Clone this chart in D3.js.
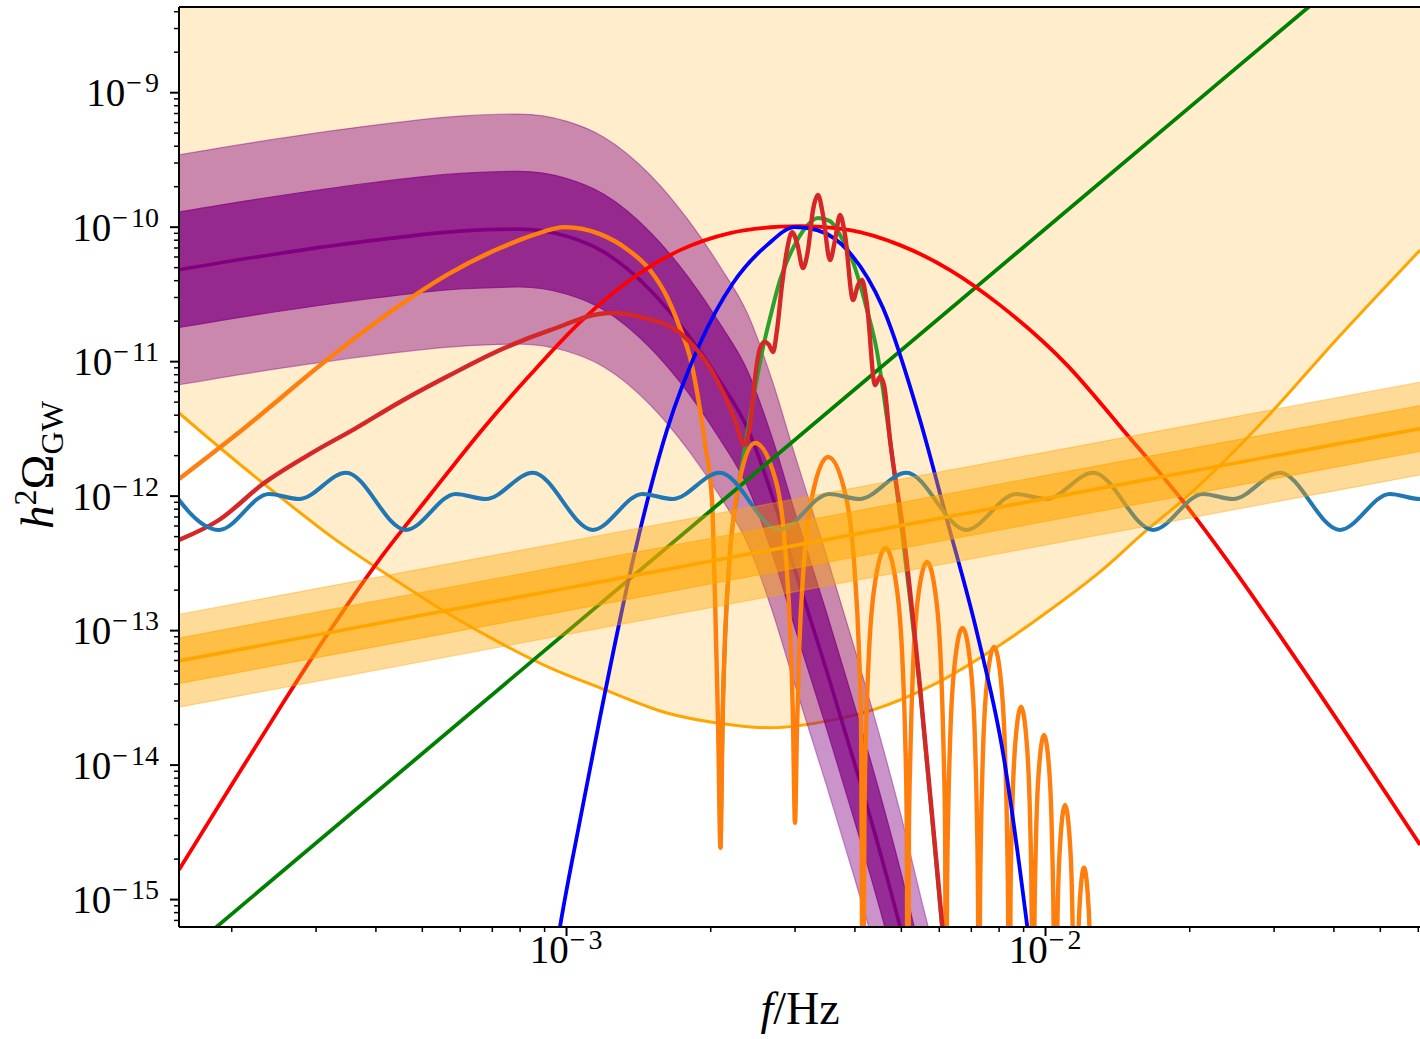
<!DOCTYPE html>
<html lang="en">
  <head>
    <meta charset="utf-8" />
    <title>h2 Omega_GW spectra</title>
    <style>
      body {
        margin: 0;
        background: #fff;
      }
      svg {
        display: block;
      }
      text {
        font-family: 'Liberation Serif', 'Times New Roman', serif;
        fill: #000;
      }
    </style>
  </head>

  <body>
    <div class="container"></div>
    <script src="https://cdn.jsdelivr.net/npm/d3@7"></script>
    <script>
      // axis limits (Hz, h^2 Omega_GW)
      const xLimits = [1.556e-4, 6.1e-2];
      const yLimits = [6.2e-16, 4.3e-9];

      // sensitivity curve, region above it is shaded
      const lisaSensitivity = [
        [1.556e-4, 4.12e-12], [1.886e-4, 2.3e-12], [2.516e-4, 9.94e-13], [3.263e-4, 4.85e-13],
        [4.502e-4, 2.24e-13], [5.726e-4, 1.3e-13], [7.281e-4, 8.03e-14], [9.261e-4, 5.24e-14],
        [1.178e-3, 3.72e-14], [1.625e-3, 2.42e-14], [2.066e-3, 2.04e-14], [2.666e-3, 1.88e-14],
        [3.609e-3, 2.15e-14], [4.375e-3, 2.55e-14], [5.836e-3, 3.91e-14], [8.054e-3, 7.76e-14],
        [1.024e-2, 1.41e-13], [1.302e-2, 2.71e-13], [1.633e-2, 5.56e-13], [1.942e-2, 9.28e-13],
        [2.908e-2, 3.84e-12], [3.994e-2, 1.36e-11], [6.067e-2, 6.69e-11],
      ];

      // purple broken power law with two bands
      const purpleFreq = [1.5e-4, 2.5e-4, 4e-4, 6e-4, 8e-4, 1e-3, 1.2e-3, 1.5e-3, 1.8e-3, 2.1e-3,
        2.4e-3, 2.7e-3, 3e-3, 3.5e-3, 4e-3, 4.5e-3, 5e-3, 5.6e-3, 6.3e-3];
      const purpleMid = [4.68e-11, 6.3e-11, 7.94e-11, 9.27e-11, 9.59e-11, 8.51e-11, 6.47e-11, 3.37e-11,
        1.56e-11, 7.0e-12, 3.08e-12, 9.77e-13, 2.85e-13, 4.98e-14, 1.03e-14, 2.4e-15, 5.92e-16, 1.12e-16, 2.29e-17];
      const purpleHi1 = [1.26e-10, 1.69e-10, 2.14e-10, 2.49e-10, 2.58e-10, 2.29e-10, 1.74e-10, 9.08e-11,
        4.21e-11, 1.88e-11, 8.28e-12, 2.63e-12, 7.67e-13, 1.34e-13, 2.77e-14, 6.47e-15, 1.59e-15, 3.03e-16, 6.17e-17];
      const purpleLo1 = [1.74e-11, 2.34e-11, 2.95e-11, 3.44e-11, 3.56e-11, 3.16e-11, 2.4e-11, 1.25e-11,
        5.81e-12, 2.6e-12, 1.14e-12, 3.63e-13, 1.06e-13, 1.85e-14, 3.83e-15, 8.93e-16, 2.2e-16, 4.18e-17, 8.51e-18];
      const purpleHi2 = [3.35e-10, 4.51e-10, 5.69e-10, 6.64e-10, 6.87e-10, 6.1e-10, 4.63e-10, 2.42e-10,
        1.12e-10, 5.01e-11, 2.2e-11, 7.0e-12, 2.04e-12, 3.56e-13, 7.38e-14, 1.72e-14, 4.24e-15, 8.05e-16, 1.64e-16];
      const purpleLo2 = [6.53e-12, 8.79e-12, 1.11e-11, 1.29e-11, 1.34e-11, 1.19e-11, 9.04e-12, 4.71e-12,
        2.18e-12, 9.77e-13, 4.3e-13, 1.36e-13, 3.98e-14, 6.95e-15, 1.44e-15, 3.36e-16, 8.26e-17, 1.57e-17, 3.2e-18];

      // orange power law (f^(2/3)) with two bands
      const ptaFreq = [1e-4, 1e-3, 1e-2, 1e-1];
      const ptaMid = [4.4e-14, 2.05e-13, 9.5e-13, 4.4e-12];
      const ptaLo1 = [2.98e-14, 1.39e-13, 6.42e-13, 2.98e-12];
      const ptaHi1 = [6.5e-14, 3.03e-13, 1.41e-12, 6.5e-12];
      const ptaLo2 = [1.99e-14, 9.26e-14, 4.29e-13, 1.99e-12];
      const ptaHi2 = [9.74e-14, 4.54e-13, 2.1e-12, 9.74e-12];

      // straight f^3 line
      const greenLine = [[1e-4, 9.6e-17], [1e-1, 9.6e-8]];

      const redBump = [
        [1.556e-4, 1.65e-15], [2.017e-4, 7.32e-15], [2.59e-4, 3.03e-14], [3.17e-4, 9.21e-14],
        [4.07e-4, 3.32e-13], [5.201e-4, 1.01e-12], [6.677e-4, 3.08e-12], [8.411e-4, 7.88e-12],
        [1.07e-3, 1.95e-11], [1.36e-3, 4.01e-11], [1.73e-3, 6.69e-11], [2.199e-3, 8.96e-11],
        [2.797e-3, 1.0e-10], [3.08e-3, 1.01e-10], [3.917e-3, 9.43e-11], [4.981e-3, 7.29e-11],
        [6.334e-3, 4.76e-11], [8.054e-3, 2.61e-11], [1.112e-2, 9.35e-12], [1.455e-2, 3.08e-12],
        [1.932e-2, 9.28e-13], [2.399e-2, 3.32e-13], [3.407e-2, 5.51e-14], [6.067e-2, 2.53e-15],
      ];

      const blueBump = [
        [9.261e-4, 2.12e-16], [9.716e-4, 6.23e-16], [1.07e-3, 3.89e-15], [1.178e-3, 2.26e-14],
        [1.38e-3, 3.32e-13], [1.625e-3, 3.08e-12], [1.905e-3, 1.36e-11], [2.232e-3, 3.81e-11],
        [2.628e-3, 7.29e-11], [3.006e-3, 9.92e-11], [3.342e-3, 9.43e-11], [3.917e-3, 6.36e-11],
        [4.59e-3, 2.48e-11], [5.483e-3, 3.65e-12], [6.243e-3, 6.59e-13], [7.211e-3, 9.53e-14],
        [8.171e-3, 1.22e-14], [9.171e-3, 6.44e-16], [9.53e-3, 2.12e-16],
      ];

      const greenPeak = [
        [2.101e-3, 2.41e-15], [2.124e-3, 2.42e-14], [2.15e-3, 9.53e-14], [2.198e-3, 3.62e-13],
        [2.297e-3, 1.24e-12], [2.364e-3, 2.3e-12], [2.445e-3, 4.72e-12], [2.504e-3, 7.49e-12],
        [2.566e-3, 1.17e-11], [2.666e-3, 2.09e-11], [2.797e-3, 4.01e-11], [2.978e-3, 6.93e-11],
        [3.155e-3, 9.75e-11], [3.358e-3, 1.16e-10], [3.557e-3, 1.1e-10], [3.733e-3, 8.66e-11],
        [3.974e-3, 5.45e-11], [4.25e-3, 2.4e-11], [4.46e-3, 1.17e-11], [4.59e-3, 6.1e-12],
        [4.747e-3, 2.59e-12], [4.933e-3, 9.28e-13], [5.483e-3, 3.59e-14], [6.095e-3, 6.23e-16],
        [6.334e-3, 1.5e-16],
      ];

      const redWiggle = [
        [1.556e-4, 4.68e-13], [1.886e-4, 6.59e-13], [2.342e-4, 1.24e-12], [2.949e-4, 2.08e-12],
        [3.644e-4, 3.18e-12], [4.502e-4, 4.97e-12], [5.726e-4, 7.88e-12], [7.281e-4, 1.21e-11],
        [9.261e-4, 1.7e-11], [1.236e-3, 2.28e-11], [1.462e-3, 2.09e-11], [1.73e-3, 1.62e-11],
        [2.027e-3, 8.16e-12], [2.253e-3, 3.65e-12], [2.353e-3, 2.38e-12], [2.422e-3, 3.35e-12],
        [2.493e-3, 8.59e-12], [2.541e-3, 1.25e-11], [2.603e-3, 1.39e-11], [2.653e-3, 1.32e-11],
        [2.705e-3, 1.17e-11], [2.757e-3, 1.7e-11], [2.824e-3, 3.68e-11], [2.893e-3, 6.69e-11],
        [2.963e-3, 9.11e-11], [3.036e-3, 7.55e-11], [3.124e-3, 4.92e-11], [3.2e-3, 6.69e-11],
        [3.278e-3, 1.33e-10], [3.358e-3, 1.72e-10], [3.44e-3, 1.22e-10], [3.557e-3, 5.64e-11],
        [3.644e-3, 7.94e-11], [3.733e-3, 1.22e-10], [3.824e-3, 8.66e-11], [3.974e-3, 2.85e-11],
        [4.07e-3, 3.68e-11], [4.15e-3, 4.01e-11], [4.25e-3, 2.61e-11], [4.417e-3, 6.64e-12],
        [4.524e-3, 7.62e-12], [4.612e-3, 6.64e-12], [4.747e-3, 2.59e-12], [5.053e-3, 5.56e-13],
        [5.483e-3, 3.78e-14], [6.095e-3, 6.67e-16], [6.334e-3, 1.5e-16],
      ];

      const orangeLobes = [
        [1.556e-4, 1.33e-12], [2.107e-4, 3.08e-12], [3.263e-4, 1.11e-11], [4.502e-4, 2.61e-11],
        [5.726e-4, 4.52e-11], [7.281e-4, 6.93e-11], [8.533e-4, 8.66e-11], [9.952e-4, 9.92e-11],
        [1.178e-3, 8.8e-11], [1.341e-3, 6.8e-11], [1.497e-3, 4.76e-11], [1.625e-3, 3.0e-11],
        [1.73e-3, 1.76e-11], [1.815e-3, 1.07e-11], [1.905e-3, 4.33e-12], [1.96e-3, 2.18e-12],
        [2.017e-3, 9.28e-13], [2.047e-3, 1.68e-13], [2.076e-3, 2.15e-14], [2.101e-3, 2.41e-15],
        [2.124e-3, 2.42e-14], [2.15e-3, 9.53e-14], [2.198e-3, 3.62e-13], [2.297e-3, 1.24e-12],
        [2.481e-3, 2.46e-12], [2.75e-3, 1.24e-12], [2.875e-3, 3.62e-13], [2.939e-3, 9.53e-14],
        [2.975e-3, 2.42e-14], [3.006e-3, 3.69e-15], [3.036e-3, 1.91e-14], [3.069e-3, 7.5e-14],
        [3.132e-3, 2.85e-13], [3.263e-3, 9.77e-13], [3.524e-3, 1.94e-12], [3.842e-3, 9.77e-13],
        [4.002e-3, 2.85e-13], [4.085e-3, 7.5e-14], [4.13e-3, 1.91e-14], [4.169e-3, 1.37e-17],
        [4.197e-3, 4.02e-15], [4.226e-3, 1.58e-14], [4.283e-3, 6.0e-14], [4.401e-3, 2.06e-13],
        [4.645e-3, 4.08e-13], [4.903e-3, 2.06e-13], [5.038e-3, 6.0e-14], [5.106e-3, 1.58e-14],
        [5.142e-3, 4.02e-15], [5.176e-3, 1.37e-17],
        [5.199e-3, 3.16e-15], [5.236e-3, 1.24e-14], [5.295e-3, 4.73e-14], [5.417e-3, 1.62e-13],
        [5.671e-3, 3.21e-13], [5.936e-3, 1.62e-13], [6.073e-3, 4.73e-14], [6.142e-3, 1.24e-14],
        [6.186e-3, 3.16e-15], [6.213e-3, 1.37e-17],
        [6.243e-3, 1.02e-15], [6.276e-3, 4.02e-15], [6.337e-3, 1.53e-14], [6.464e-3, 5.24e-14],
        [6.726e-3, 1.04e-13], [6.998e-3, 5.24e-14], [7.14e-3, 1.53e-14], [7.208e-3, 4.02e-15],
        [7.246e-3, 1.02e-15], [7.281e-3, 1.37e-17],
        [7.313e-3, 7.39e-16], [7.348e-3, 2.9e-15], [7.413e-3, 1.1e-14], [7.549e-3, 3.78e-14],
        [7.826e-3, 7.5e-14], [8.113e-3, 3.78e-14], [8.26e-3, 1.1e-14], [8.335e-3, 2.9e-15],
        [8.375e-3, 7.39e-16], [8.411e-3, 1.37e-17],
        [8.472e-3, 1.04e-15], [8.533e-3, 3.95e-15], [8.658e-3, 1.36e-14], [8.911e-3, 2.69e-14],
        [9.171e-3, 1.36e-14], [9.306e-3, 3.95e-15], [9.372e-3, 1.04e-15], [9.439e-3, 1.37e-17],
        [9.504e-3, 6.44e-16], [9.566e-3, 2.45e-15], [9.692e-3, 8.39e-15], [9.952e-3, 1.66e-14],
        [1.022e-2, 8.39e-15], [1.035e-2, 2.45e-15], [1.042e-2, 6.44e-16], [1.049e-2, 1.37e-17],
        [1.062e-2, 7.39e-16], [1.075e-2, 2.53e-15], [1.101e-2, 5.02e-15], [1.128e-2, 2.53e-15],
        [1.141e-2, 7.39e-16], [1.155e-2, 1.37e-17],
        [1.168e-2, 2.51e-16], [1.18e-2, 8.62e-16], [1.206e-2, 1.71e-15], [1.233e-2, 8.62e-16],
        [1.246e-2, 2.51e-16], [1.26e-2, 1.37e-17],
      ];

      // wavy spectrum around 1e-12 (extrema only)
      const blueWave = [
        [1.415e-4, 1.48e-12], [1.886e-4, 5.56e-13], [2.399e-4, 1.03e-12], [2.771e-4, 9.44e-13], [3.473e-4, 1.48e-12],
        [4.631e-4, 5.56e-13], [5.887e-4, 1.03e-12], [6.801e-4, 9.44e-13], [8.524e-4, 1.48e-12],
        [1.137e-3, 5.56e-13], [1.445e-3, 1.03e-12], [1.669e-3, 9.44e-13], [2.093e-3, 1.48e-12],
        [2.789e-3, 5.56e-13], [3.548e-3, 1.03e-12], [4.098e-3, 9.44e-13], [5.135e-3, 1.48e-12],
        [6.846e-3, 5.56e-13], [8.709e-3, 1.03e-12], [1.006e-2, 9.44e-13], [1.261e-2, 1.48e-12],
        [1.681e-2, 5.56e-13], [2.138e-2, 1.03e-12], [2.469e-2, 9.44e-13], [3.094e-2, 1.48e-12],
        [4.125e-2, 5.56e-13], [5.248e-2, 1.03e-12], [6.061e-2, 9.44e-13], [7.597e-2, 1.48e-12],
      ];

      // Layout
      const width = 1420;
      const height = 1039;
      const pLeft = 179;
      const pRight = 1421.2;
      const pTop = 7;
      const pBottom = 927;

      const svg = d3
        .select('div.container')
        .append('svg')
        .attr('width', width)
        .attr('height', height);

      const x = d3.scaleLog().domain(xLimits).range([pLeft, pRight]);
      const y = d3.scaleLog().domain(yLimits).range([pBottom, pTop]);

      svg
        .append('defs')
        .append('clipPath')
        .attr('id', 'plot-clip')
        .append('rect')
        .attr('x', pLeft)
        .attr('y', pTop)
        .attr('width', pRight - pLeft)
        .attr('height', pBottom - pTop);

      const plot = svg.append('g').attr('clip-path', 'url(#plot-clip)');

      const line = d3
        .line()
        .x((d) => x(d[0]))
        .y((d) => y(d[1]));

      const band = d3
        .area()
        .x((d) => x(d[0]))
        .y0((d) => y(d[1]))
        .y1((d) => y(d[2]));

      function drawLine(data, color, w, curve) {
        line.curve(curve || d3.curveMonotoneX);
        plot
          .append('path')
          .attr('fill', 'none')
          .attr('stroke', color)
          .attr('stroke-width', w)
          .attr('stroke-linejoin', 'round')
          .attr('d', line(data));
      }

      function drawBand(freq, lo, hi, color, opacity, curve) {
        band.curve(curve || d3.curveMonotoneX);
        plot
          .append('path')
          .attr('fill', color)
          .attr('fill-opacity', opacity)
          .attr('stroke', color)
          .attr('stroke-opacity', opacity)
          .attr('stroke-width', 1.2)
          .attr('d', band(d3.zip(freq, lo, hi)));
      }

      // shaded region above the sensitivity curve
      const shade = d3
        .area()
        .x((d) => x(d[0]))
        .y0(pTop)
        .y1((d) => y(d[1]))
        .curve(d3.curveMonotoneX);
      plot
        .append('path')
        .attr('fill', '#ffa500')
        .attr('fill-opacity', 0.2)
        .attr('d', shade(lisaSensitivity));
      drawLine(lisaSensitivity, '#ffa500', 3);

      // purple bands
      drawBand(purpleFreq, purpleLo2, purpleHi2, '#800080', 0.42);
      drawBand(purpleFreq, purpleLo1, purpleHi1, '#800080', 0.7);
      drawLine(d3.zip(purpleFreq, purpleMid), '#800080', 3.6);

      // spectra
      drawLine(greenPeak, '#2ca02c', 4);
      drawLine(orangeLobes, '#ff7f0e', 4.4);
      drawLine(greenLine, '#008000', 3.8, d3.curveLinear);
      drawLine(redBump, '#ff0000', 3.8);
      drawLine(blueBump, '#0000ff', 3.8);
      drawLine(redWiggle, '#d62728', 4.4);
      drawLine(blueWave, '#1f77b4', 4);

      // orange power-law bands on top
      drawBand(ptaFreq, ptaLo2, ptaHi2, '#ffa500', 0.4, d3.curveLinear);
      drawBand(ptaFreq, ptaLo1, ptaHi1, '#ffa500', 0.55, d3.curveLinear);
      drawLine(d3.zip(ptaFreq, ptaMid), '#ffa500', 3.6, d3.curveLinear);

      // Axes
      const isMajor = (v) => Math.abs(Math.log10(v) - Math.round(Math.log10(v))) < 1e-6;
      const xTicks = x.ticks();
      const yTicks = y.ticks();

      function styleTicks(g, w) {
        g.select('.domain').remove();
        g.selectAll('line').attr('stroke', '#000').attr('stroke-width', w);
      }

      svg
        .append('g')
        .attr('transform', `translate(0,${pBottom})`)
        .call(d3.axisBottom(x).tickValues(xTicks.filter((v) => !isMajor(v))).tickSize(5).tickSizeOuter(0).tickFormat(''))
        .call((g) => styleTicks(g, 1.5));
      svg
        .append('g')
        .attr('transform', `translate(0,${pBottom})`)
        .call(d3.axisBottom(x).tickValues(xTicks.filter(isMajor)).tickSize(9).tickSizeOuter(0).tickFormat(''))
        .call((g) => styleTicks(g, 2));
      svg
        .append('g')
        .attr('transform', `translate(${pLeft},0)`)
        .call(d3.axisLeft(y).tickValues(yTicks.filter((v) => !isMajor(v))).tickSize(5).tickSizeOuter(0).tickFormat(''))
        .call((g) => styleTicks(g, 1.5));
      svg
        .append('g')
        .attr('transform', `translate(${pLeft},0)`)
        .call(d3.axisLeft(y).tickValues(yTicks.filter(isMajor)).tickSize(9).tickSizeOuter(0).tickFormat(''))
        .call((g) => styleTicks(g, 2));

      function powerLabel(px, py, anchor, v) {
        const t = svg
          .append('text')
          .attr('x', px)
          .attr('y', py)
          .attr('text-anchor', anchor)
          .style('font-size', '39px');
        t.append('tspan').text('10');
        t.append('tspan')
          .attr('dy', -14)
          .attr('dx', 1)
          .style('font-size', '28px')
          .text('\u2212');
        t.append('tspan')
          .attr('dx', 3)
          .style('font-size', '28px')
          .text(Math.abs(Math.round(Math.log10(v))));
      }

      xTicks.filter(isMajor).forEach((v) => powerLabel(x(v), 963, 'middle', v));
      yTicks.filter(isMajor).forEach((v) => powerLabel(159, y(v) + 14, 'end', v));

      // Frame
      const frame = svg.append('g').attr('stroke', '#000').attr('stroke-width', 2).attr('fill', 'none');
      frame.append('line').attr('x1', pLeft).attr('x2', pLeft).attr('y1', pTop).attr('y2', pBottom);
      frame.append('line').attr('x1', pLeft).attr('x2', pRight).attr('y1', pBottom).attr('y2', pBottom);
      frame.append('line').attr('x1', pLeft).attr('x2', pRight).attr('y1', pTop).attr('y2', pTop);
      frame.append('line').attr('x1', pRight).attr('x2', pRight).attr('y1', pTop).attr('y2', pBottom);

      // Axis titles
      const xlab = svg
        .append('text')
        .attr('x', (pLeft + pRight) / 2)
        .attr('y', 1024)
        .attr('text-anchor', 'middle')
        .style('font-size', '46px');
      xlab.append('tspan').style('font-style', 'italic').text('f');
      xlab.append('tspan').text('/Hz');

      const ylab = svg
        .append('text')
        .attr('transform', 'translate(53,465) rotate(-90)')
        .attr('text-anchor', 'middle')
        .style('font-size', '47px');
      ylab.append('tspan').style('font-style', 'italic').text('h');
      ylab.append('tspan').attr('dy', -17).style('font-size', '32px').text('2');
      ylab.append('tspan').attr('dy', 17).text('\u03a9');
      ylab.append('tspan').attr('dy', 10).style('font-size', '32px').text('GW');
    </script>
  </body>
</html>
